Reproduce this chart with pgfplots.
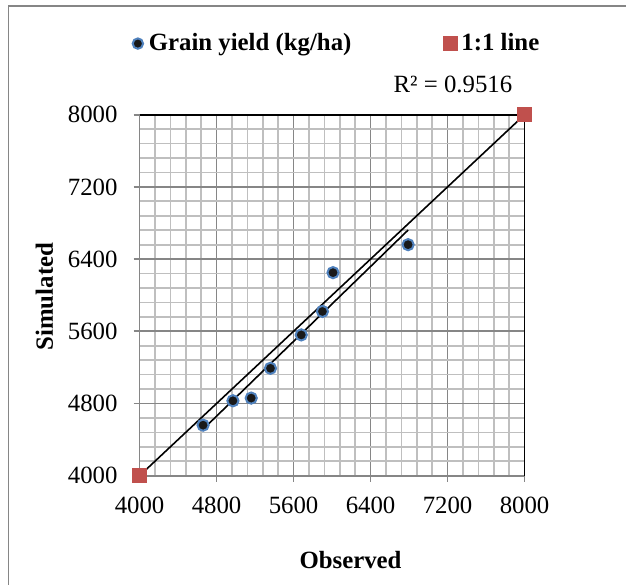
\documentclass[border=0pt]{standalone}
\usepackage{pgfplots}
\usepackage{pgfplotstable}
\pgfplotsset{compat=1.18}
\usepackage{fontspec}
\setmainfont{Liberation Serif}

\definecolor{markblue}{HTML}{4F81BD}
\definecolor{sqred}{HTML}{C0504D}
\definecolor{majgrid}{HTML}{868686}
\definecolor{mingrid}{HTML}{BFBFBF}

% legend image: a single mark in a fixed-width cell, no line
\pgfplotsset{single mark legend/.style={
  legend image code/.code={
    \path[draw=none, fill=none] (-3.5pt,-3.5pt) rectangle (3.5pt,3.5pt);
    \draw[##1] plot coordinates {(0pt,0pt)};}}}

% observed vs simulated grain yield (kg/ha)
\pgfplotstableread{
obs   sim
4660  4560
4970  4830
5160  4860
5360  5190
5680  5560
5900  5820
6010  6250
6790  6560
}\yielddata

\begin{document}
\begin{tikzpicture}[x=0.5pt,y=0.5pt]
\useasboundingbox (0,0) rectangle (626,584);
% chart frame
\draw[majgrid, line width=0.8pt] (8.5,-20) -- (8.5,578) -- (660,578);

\begin{axis}[
  at={(145,120)}, anchor=south west,
  scale only axis, width=192.5pt, height=180.5pt,
  xmin=4000, xmax=8000, ymin=4000, ymax=8000,
  xtick={4000,4800,...,8000}, ytick={4000,4800,...,8000},
  minor tick num=4,
  grid=both,
  major grid style={draw=majgrid, line width=0.85pt},
  minor grid style={draw=mingrid, line width=0.85pt},
  axis x line*=bottom, axis y line*=left,
  axis line style={draw=majgrid, line width=0.85pt, -},
  tick align=outside, major tick length=3pt,
  major tick style={draw=majgrid, line width=0.85pt},
  minor tick style={draw=none},
  /pgf/number format/assume math mode=true,
  /pgf/number format/1000 sep={},
  tick label style={font=\fontsize{12.4}{14}\selectfont},
  xticklabel style={yshift=-4pt},
  yticklabel style={xshift=-4.5pt},
  xlabel={\textbf{Observed}}, ylabel={\textbf{Simulated}},
  label style={font=\fontsize{12.4}{14}\selectfont},
  xlabel style={at={(axis description cs:0.548,-0.233)}, anchor=center},
  ylabel style={at={(axis description cs:-0.247,0.496)}, anchor=center},
  legend columns=2,
  legend style={at={(0.513,1.197)}, anchor=center, draw=none, fill=none,
    font=\fontsize{12.4}{14}\selectfont\bfseries,
    /tikz/every even column/.append style={column sep=44pt}},
  clip=false,
]
% plot frame, top and right
\draw[black, line width=0.8pt] (rel axis cs:0,1) -- (rel axis cs:1,1) -- (rel axis cs:1,0);

% 1:1 end points and line
\addplot[only marks, mark=square*, mark size=3.5pt, mark options={fill=sqred, draw=sqred}, forget plot]
  coordinates {(4000,4000) (8000,8000)};
\addplot[black, line width=0.8pt, forget plot] coordinates {(4000,4000) (8000,8000)};

% linear trend of simulated on observed
\addplot[black, line width=0.8pt, forget plot]
  table[x=obs, y={create col/linear regression={y=sim}}] {\yielddata};

% observations
\addplot[only marks, mark=*, mark size=2.8pt,
  mark options={fill=black!90, draw=markblue, line width=1pt}, forget plot]
  table[x=obs, y=sim] {\yielddata};

\addlegendimage{only marks, mark=*, mark size=2.6pt,
  mark options={fill=black!90, draw=markblue, line width=1pt}, single mark legend}
\addlegendentry{Grain yield (kg/ha)}
\addlegendimage{only marks, mark=square*, mark size=3.5pt,
  mark options={fill=sqred, draw=sqred}, single mark legend}
\addlegendentry{1:1 line}

\node[font=\fontsize{12.4}{14}\selectfont, anchor=center] at (rel axis cs:0.814,1.083) {R² = 0.9516};
\end{axis}
\end{tikzpicture}
\end{document}
